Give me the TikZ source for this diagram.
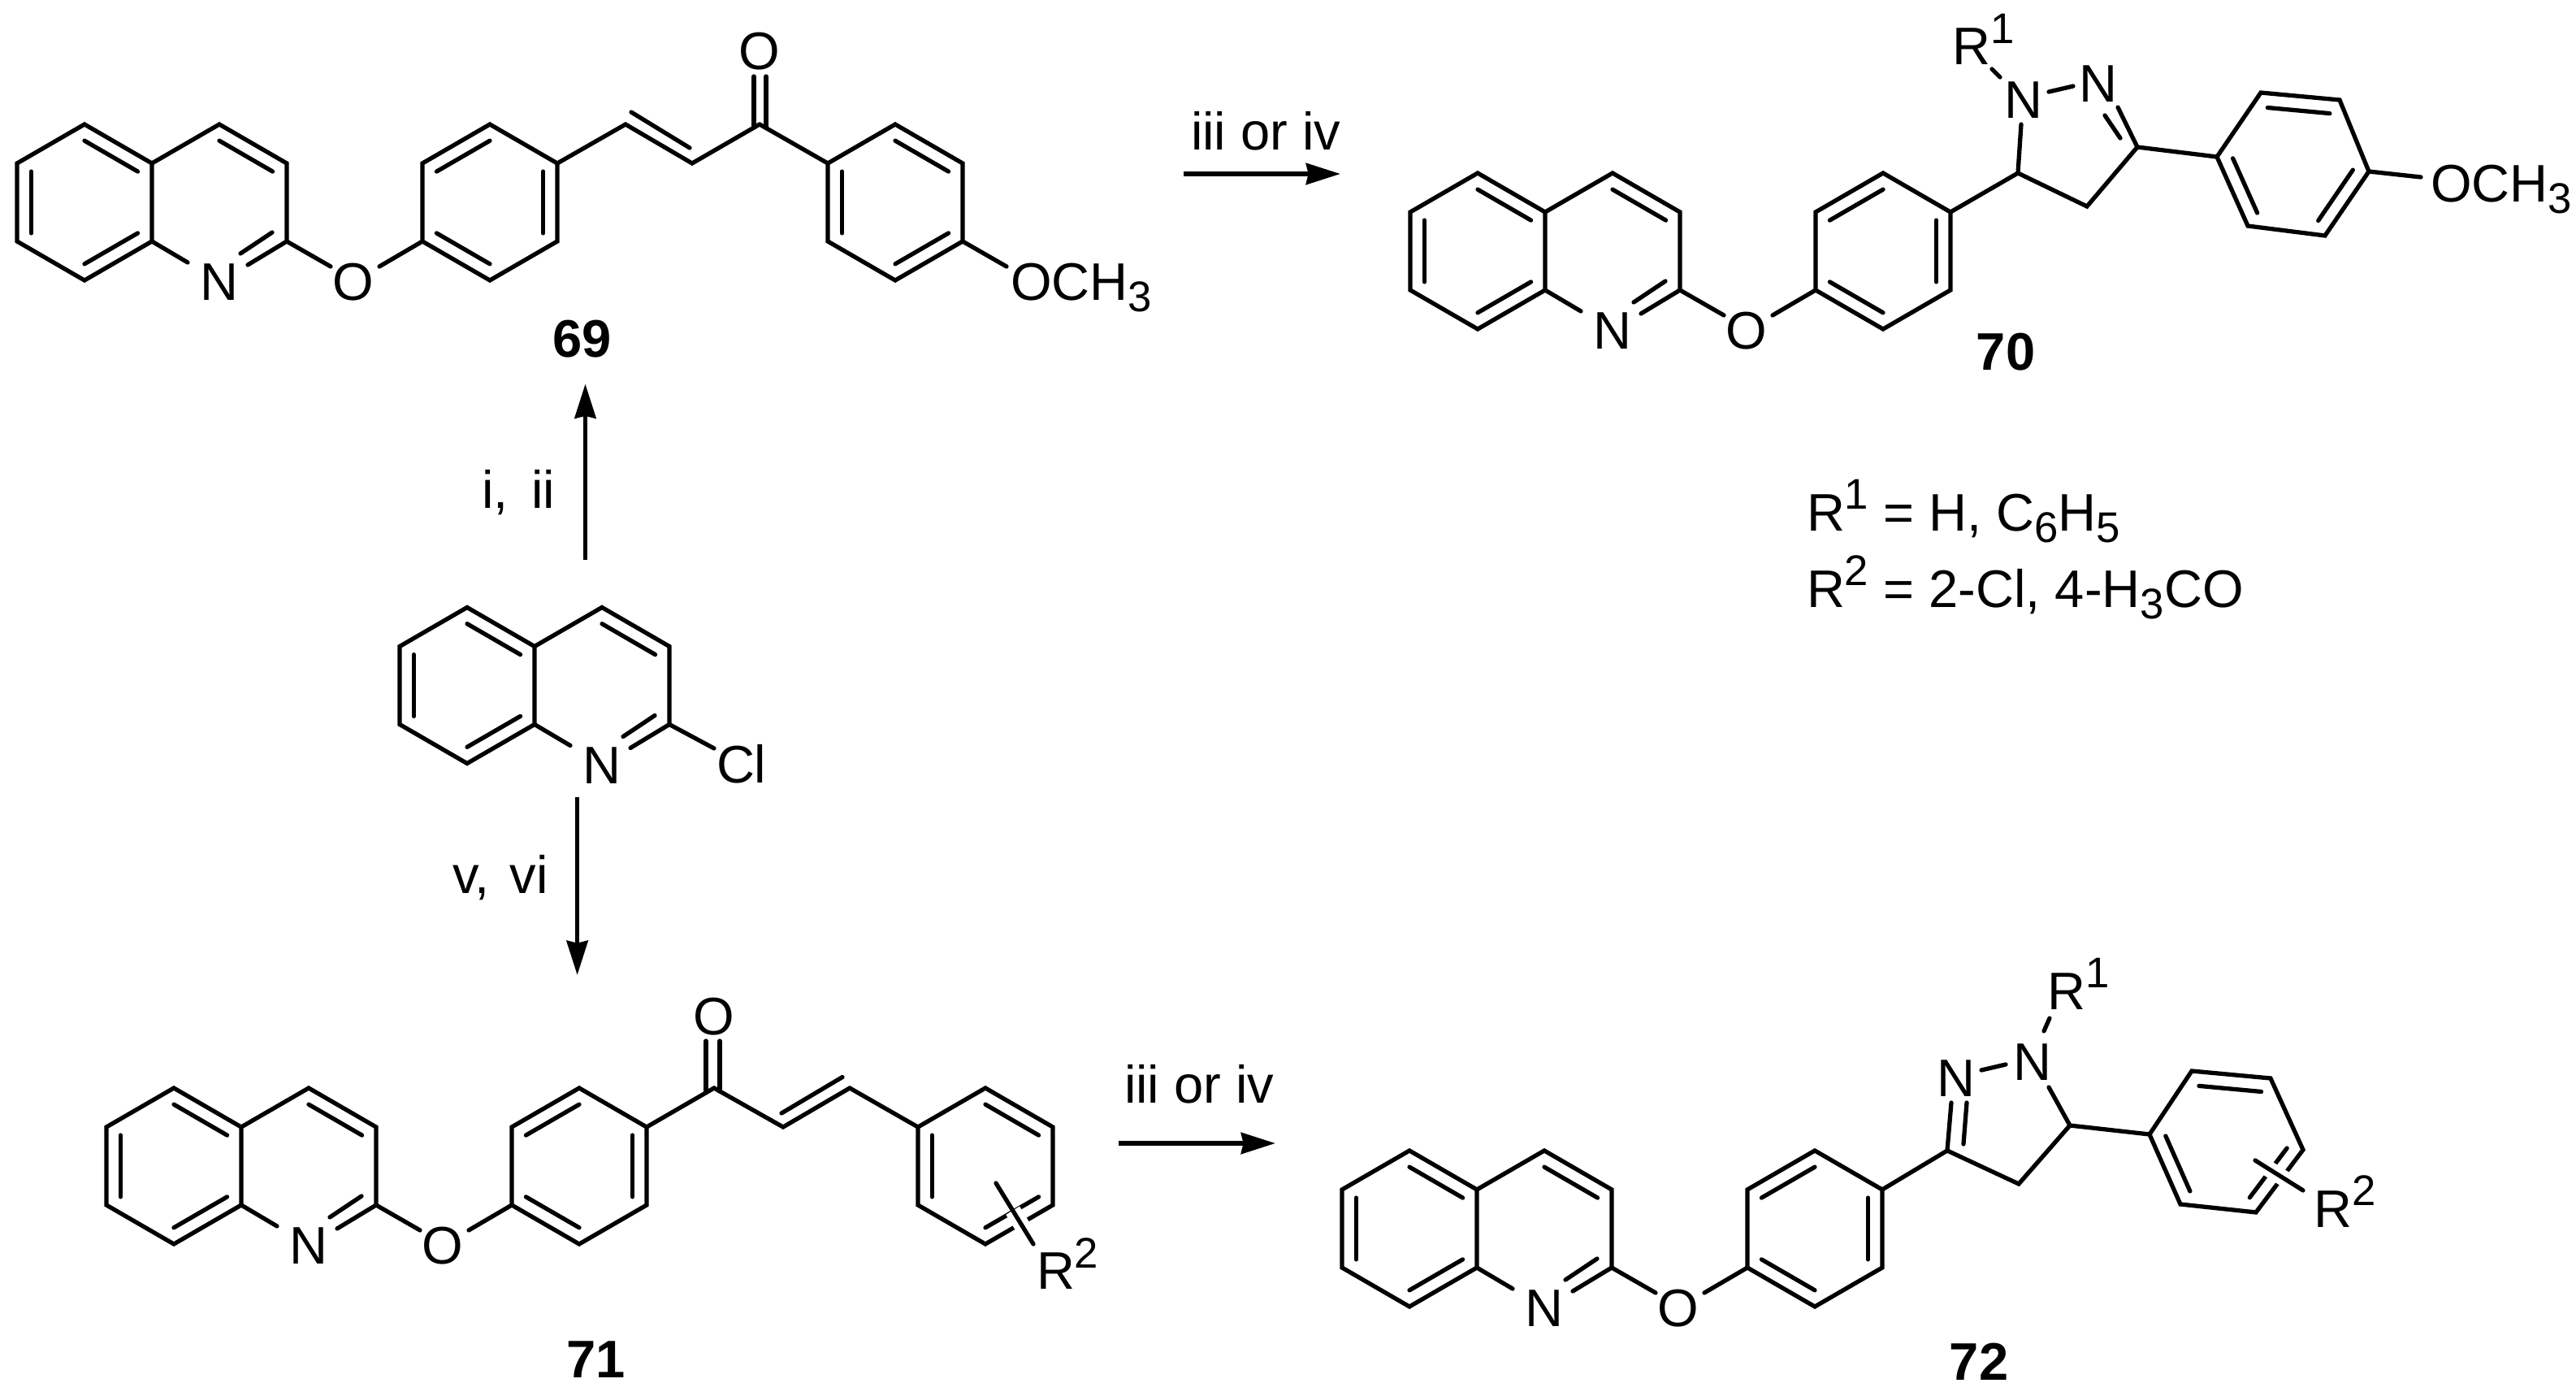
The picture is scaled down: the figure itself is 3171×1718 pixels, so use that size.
\documentclass[tikz,border=0pt]{standalone}
\usepackage{fontspec}
\setmainfont{Liberation Sans}
\usetikzlibrary{calc,arrows.meta}
\newcommand{\sbs}[1]{\raisebox{-4pt}{\fontsize{15}{15}\selectfont #1}}
\newcommand{\sps}[1]{\raisebox{7.4pt}{\fontsize{15}{15}\selectfont #1}}
\tikzset{
  bond/.style={line width=1.5pt,line cap=round,line join=miter,black},
  halo/.style={line width=5.6pt,white},
  rxn/.style={line width=1.6pt,-{Stealth[length=12pt,width=7.4pt,inset=0.8pt]},black},
  atom/.style={inner sep=0pt,outer sep=0pt,font=\fontsize{18.5}{18.5}\selectfont,text height=13.4pt,text depth=0pt},
  txt/.style={inner sep=0pt,outer sep=0pt,anchor=base west,font=\fontsize{18.5}{22}\selectfont},
  cpd/.style={atom,font=\fontsize{18.5}{18.5}\selectfont\bfseries}
}
% hexagon coordinates: 1 top, 2 upper right, 3 lower right, 4 bottom, 5 lower left, 6 upper left
\newcommand{\hexc}[3]{%
  \coordinate (#1c) at (#2,#3);
  \coordinate (#11) at ($(#1c)+(0,-96)$);
  \coordinate (#12) at ($(#1c)+(83,-48)$);
  \coordinate (#13) at ($(#1c)+(83,48)$);
  \coordinate (#14) at ($(#1c)+(0,96)$);
  \coordinate (#15) at ($(#1c)+(-83,48)$);
  \coordinate (#16) at ($(#1c)+(-83,-48)$);}
\newcommand{\hexr}[3]{\hexc{#1}{#2}{#3}%
  \draw[bond] (#11)--(#12)--(#13)--(#14)--(#15)--(#16)--cycle;}
\newcommand{\dbl}[3]{\draw[bond] ($(#1)!.21!(#3)$) -- ($(#2)!.21!(#3)$);}
% quinoline: name, x of ring fusion, y of ring top
\newcommand{\quin}[3]{%
  \hexr{#1a}{#2-83}{#3+96}%
  \hexc{#1p}{#2+83}{#3+96}%
  \dbl{#1a1}{#1a2}{#1ac}\dbl{#1a3}{#1a4}{#1ac}\dbl{#1a5}{#1a6}{#1ac}%
  \draw[bond] (#1p6)--(#1p1)--(#1p2)--(#1p3);
  \dbl{#1p1}{#1p2}{#1pc}%
  \node[atom] (#1N) at (#2+83,#3+193) {N};
  \draw[bond] (#1p5) -- (#2+44,#3+170);
  \draw[bond] (#1p3) -- (#2+118,#3+173);
  \draw[bond] (#2+148,#3+133) -- (#2+109,#3+159);}
% ether oxygen and phenylene
\newcommand{\ether}[3]{%
  \hexr{#1r}{#2+416}{#3+96}%
  \dbl{#1r6}{#1r1}{#1rc}\dbl{#1r2}{#1r3}{#1rc}\dbl{#1r5}{#1r4}{#1rc}%
  \node[atom] (#1O) at (#2+248,#3+193) {O};
  \draw[bond] (#1p3) -- (#2+220,#3+175);
  \draw[bond] (#2+280,#3+175) -- (#1r5);}
\begin{document}
\begin{tikzpicture}[x=0.01cm,y=-0.01cm]
\useasboundingbox (0,0) rectangle (3171,1718);
% --- 69
\quin{A}{187}{153}\ether{A}{187}{153}
\coordinate (Av1) at (770,153);
\coordinate (Av2) at (852,201);
\coordinate (Av3) at (935,153);
\draw[bond] (Ar2)--(Av1)--(Av2)--(Av3);
\draw[bond] (777,138)--(849,182);
\node[atom] (AOk) at (935,62) {O};
\draw[bond] (928,157)--(928,94);
\draw[bond] (943,157)--(943,94);
\hexr{As}{1102}{249}
\draw[bond] (Av3)--(As6);
\dbl{As1}{As2}{Asc}\dbl{As6}{As5}{Asc}\dbl{As3}{As4}{Asc}
\node[txt] (AMe) at (1244,369) {OCH\sbs{3}};
\draw[bond] (As3)--(1239,328);
\node[cpd] (Al) at (717,416) {69};
% --- 70
\quin{B}{1902}{213}\ether{B}{1902}{213}
\coordinate (Bc5) at (2484,213);
\coordinate (Bc4) at (2569,254);
\coordinate (Bc3) at (2631,181);
\node[atom] (Bn1) at (2491,122) {N};
\node[atom] (Bn2) at (2583,102) {N};
\node[txt] (BR) at (2403,80) {R\sps{1}};
\draw[bond] (Br2)--(Bc5)--(Bc4)--(Bc3);
\draw[bond] (Bc5)--(2488,153);
\draw[bond] (2522,113)--(2552,106);
\draw[bond] (2462,95)--(2452,85);
\draw[bond] (Bc3)--(2607,132);
\draw[bond] (2591,142)--(2610,170);
\coordinate (Ba) at (2729,193);
\coordinate (Bb) at (2783,114);
\coordinate (Bd) at (2880,123);
\coordinate (Be) at (2916,211);
\coordinate (Bf) at (2862,290);
\coordinate (Bg) at (2767,278);
\coordinate (Bm) at (2822.5,202);
\draw[bond] (Ba)--(Bb)--(Bd)--(Be)--(Bf)--(Bg)--cycle;
\dbl{Bb}{Bd}{Bm}\dbl{Ba}{Bg}{Bm}\dbl{Be}{Bf}{Bm}
\draw[bond] (Bc3)--(Ba);
\draw[bond] (Be)--(2980,218);
\node[txt] (BMe) at (2992,248) {OCH\sbs{3}};
\node[cpd] (Bl) at (2469,432) {70};
% --- legend
\node[txt] (L1) at (2224,653) {R\sps{1} = H, C\sbs{6}H\sbs{5}};
\node[txt] (L2) at (2224,747) {R\sps{2} = 2-Cl, 4-H\sbs{3}CO};
% --- 2-chloroquinoline
\quin{Q}{658}{747.5}
\node[txt] (QCl) at (882,963.5) {Cl};
\draw[bond] (Qp3)--(879,921);
% --- 71
\quin{C}{297}{1339}\ether{C}{297}{1339}
\coordinate (Cv0) at (879,1339);
\coordinate (Cv1) at (964,1387);
\coordinate (Cv2) at (1046,1339);
\draw[bond] (Cr2)--(Cv0)--(Cv1)--(Cv2);
\draw[bond] (962,1370)--(1037,1325.5);
\node[atom] (COk) at (879,1250) {O};
\draw[bond] (869,1343)--(869,1281);
\draw[bond] (886,1343)--(886,1281);
\hexr{Cs}{1213}{1435}
\draw[bond] (Cv2)--(Cs6);
\dbl{Cs1}{Cs2}{Csc}\dbl{Cs6}{Cs5}{Csc}\dbl{Cs3}{Cs4}{Csc}
\coordinate (Cx1) at (1226,1456);
\coordinate (Cx2) at (1272,1531);
\draw[halo] ($(Cx1)!.45!(Cx2)$)--($(Cx1)!.85!(Cx2)$);
\draw[bond] (Cx1)--(Cx2);
\node[txt] (CR) at (1276,1586.5) {R\sps{2}};
\node[cpd] (Cl) at (734,1672) {71};
% --- 72
\quin{D}{1818}{1416}\ether{D}{1818}{1416}
\coordinate (Dc3) at (2397,1416);
\coordinate (Dc4) at (2485,1457);
\coordinate (Dc5) at (2548,1385);
\node[atom] (Dn1) at (2502,1306) {N};
\node[atom] (Dn2) at (2408,1326) {N};
\node[txt] (DR) at (2520,1242) {R\sps{1}};
\draw[bond] (Dr2)--(Dc3)--(Dc4)--(Dc5);
\draw[bond] (Dc3)--(2402,1357);
\draw[bond] (2417,1408)--(2421,1357);
\draw[bond] (2439,1317)--(2469,1310);
\draw[bond] (Dc5)--(2522,1338);
\draw[bond] (2516,1269)--(2523,1253);
\coordinate (Da) at (2646,1396);
\coordinate (Db) at (2698,1318);
\coordinate (Dd) at (2795,1327);
\coordinate (De) at (2835,1415);
\coordinate (Df) at (2777,1492);
\coordinate (Dg) at (2684,1482);
\coordinate (Dm) at (2740.5,1405.5);
\draw[bond] (Da)--(Db)--(Dd)--(De)--(Df)--(Dg)--cycle;
\dbl{Db}{Dd}{Dm}\dbl{Da}{Dg}{Dm}\dbl{De}{Df}{Dm}
\draw[bond] (Dc5)--(Da);
\coordinate (Dx1) at (2776,1428);
\coordinate (Dx2) at (2835,1465);
\draw[halo] ($(Dx1)!.2!(Dx2)$)--($(Dx1)!.7!(Dx2)$);
\draw[bond] (Dx1)--(Dx2);
\node[txt] (DR2) at (2848,1510) {R\sps{2}};
\node[cpd] (Dl) at (2436,1675) {72};
% --- arrows
\coordinate (u0) at (720.5,689);
\coordinate (u1) at (720.5,472.5);
\coordinate (w0) at (710.6,981);
\coordinate (w1) at (710.6,1200);
\coordinate (t0) at (1457,214);
\coordinate (t1) at (1650,214);
\coordinate (b0) at (1377,1407);
\coordinate (b1) at (1570,1407);
\draw[rxn] (u0)--(u1);
\draw[rxn] (w0)--(w1);
\draw[rxn] (t0)--(t1);
\draw[rxn] (b0)--(b1);
\node[txt] (Lu) at (593,625.5) {i,\kern3pt{} ii};
\node[txt] (Lw) at (557,1099) {v,\kern2pt{} vi};
\node[txt] (Lt) at (1466,184) {iii or iv};
\node[txt] (Lb) at (1384,1357) {iii or iv};
\end{tikzpicture}
\end{document}
